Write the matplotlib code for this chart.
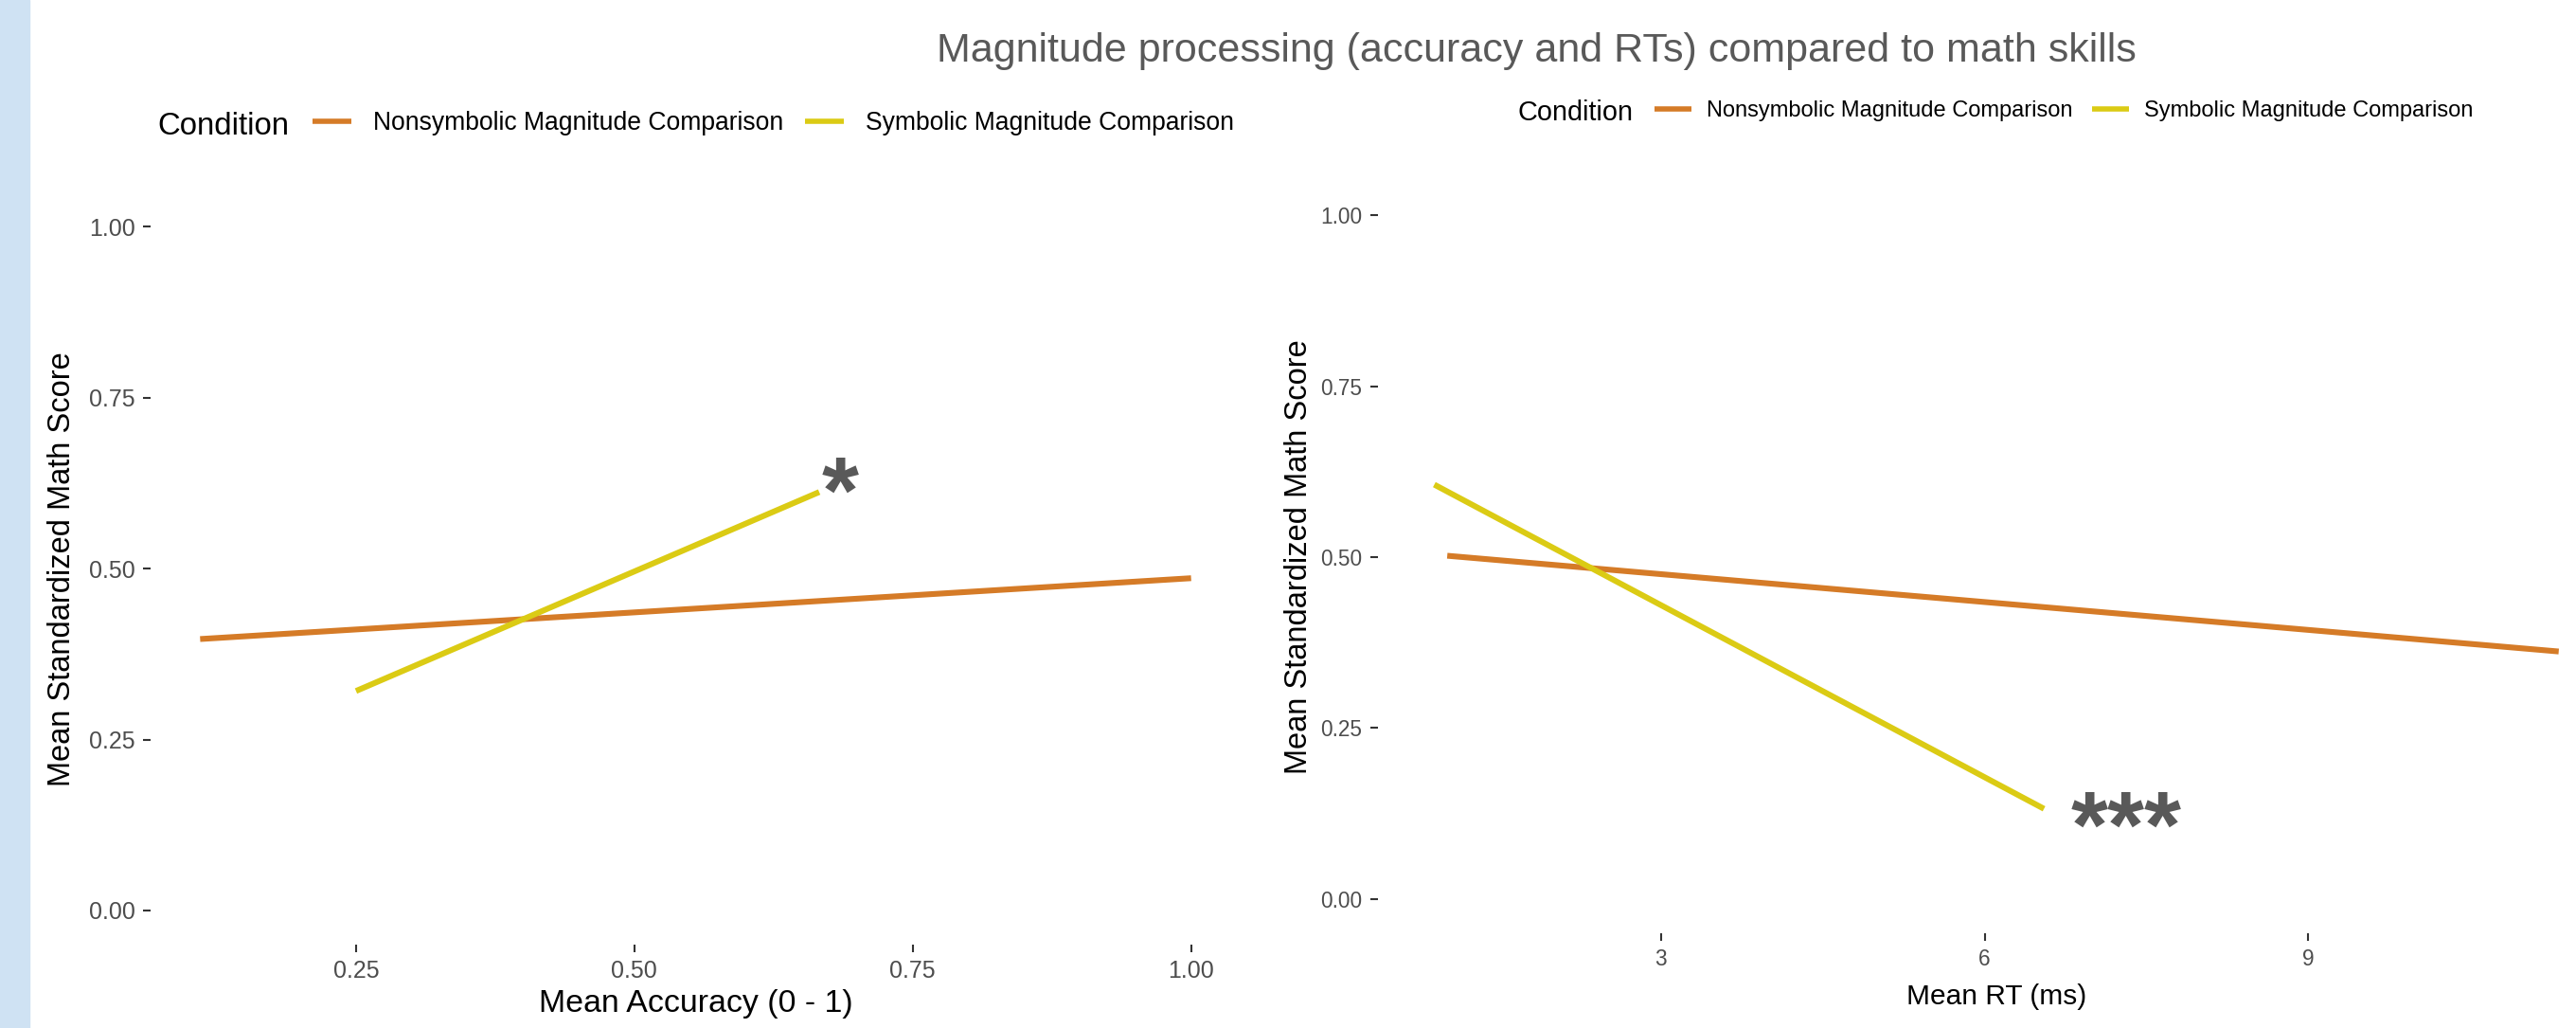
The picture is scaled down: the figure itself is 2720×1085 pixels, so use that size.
#!/usr/bin/env python3
# Magnitude processing vs math skills - two panel line chart
import matplotlib
matplotlib.use('Agg')
import matplotlib.pyplot as plt
from matplotlib.lines import Line2D
from matplotlib.patches import Rectangle

plt.rcParams['font.family'] = ['Liberation Sans', 'DejaVu Sans']

#%% data
conditions = ['Nonsymbolic Magnitude Comparison', 'Symbolic Magnitude Comparison']
colors = ['#D57B27', '#DBCB14']

acc_nonsym_x = [0.11, 1.00]
acc_nonsym_y = [0.397, 0.486]
acc_sym_x = [0.25, 0.666]
acc_sym_y = [0.321, 0.612]

rt_nonsym_x = [1.02, 11.32]
rt_nonsym_y = [0.502, 0.362]
rt_sym_x = [0.90, 6.55]
rt_sym_y = [0.606, 0.132]

y_ticks = [0.00, 0.25, 0.50, 0.75, 1.00]
acc_ticks = [0.25, 0.50, 0.75, 1.00]
rt_ticks = [3, 6, 9]

acc_signif = '*'
rt_signif = '***'

title = 'Magnitude processing (accuracy and RTs) compared to math skills'

#%% figure
W, H = 2720, 1085
fig = plt.figure(figsize=(W / 100, H / 100), dpi=100)
fig.patches.append(Rectangle((0, 0), 31 / W, 1, transform=fig.transFigure,
                             color='#cfe2f3', zorder=0))


def px_box(left, top, right, bottom):
    return [left / W, 1 - bottom / H, (right - left) / W, (bottom - top) / H]


def style_axis(ax, tick_fs, label_fs, xlabel, xlab_pos, ylab_pos, xpad):
    for s in ax.spines.values():
        s.set_visible(False)
    ax.set_ylim(-0.05, 1.05)
    ax.set_yticks(y_ticks)
    ax.set_yticklabels(['%.2f' % v for v in y_ticks])
    ax.tick_params(length=5.8, width=1.5, color='#333333', labelcolor='#4d4d4d',
                   labelsize=tick_fs, pad=6)
    ax.tick_params(axis='x', pad=xpad)
    ax.set_xlabel(xlabel, fontsize=label_fs, color='black', va='center')
    ax.xaxis.set_label_coords(*xlab_pos)
    ax.set_ylabel('Mean Standardized Math Score', fontsize=23.5, color='black',
                  va='center')
    ax.yaxis.set_label_coords(*ylab_pos)


lw = 4.4

# left panel: accuracy
ax1 = fig.add_axes(px_box(159, 203.3, 1310, 997))
ax1.plot(acc_nonsym_x, acc_nonsym_y, color=colors[0], lw=lw, solid_capstyle='butt')
ax1.plot(acc_sym_x, acc_sym_y, color=colors[1], lw=lw, solid_capstyle='butt')
ax1.set_xlim(0.0655, 1.0445)
ax1.set_xticks(acc_ticks)
ax1.set_xticklabels(['%.2f' % v for v in acc_ticks])
style_axis(ax1, 18, 24.4, 'Mean Accuracy (0 - 1)', (0.5, -0.079), (-0.0808, 0.5), 5.5)
ax1.text(0.685, 0.567, acc_signif, fontsize=72, fontweight='bold',
         color='#595959', ha='center', va='baseline')

# right panel: reaction time
ax2 = fig.add_axes(px_box(1455, 191, 2761, 985))
ax2.plot(rt_nonsym_x, rt_nonsym_y, color=colors[0], lw=lw, solid_capstyle='butt')
ax2.plot(rt_sym_x, rt_sym_y, color=colors[1], lw=lw, solid_capstyle='butt')
ax2.set_xlim(0.378, 11.84)
ax2.set_xticks(rt_ticks)
ax2.set_xticklabels([str(v) for v in rt_ticks])
style_axis(ax2, 16.3, 21.5, 'Mean RT (ms)', (0.5, -0.085), (-0.0636, 0.5), 5.5)
ax2.text(7.31, 0.061, rt_signif, fontsize=72, fontweight='bold',
         color='#595959', ha='center', va='baseline')

# title
fig.text(1622 / W, 1 - 65 / H, title, fontsize=31, color='#595959',
         ha='center', va='baseline')

# legends
handles = [Line2D([], [], color=c, lw=4, solid_capstyle='butt') for c in colors]

fig.text(166 / W, 1 - 142 / H, 'Condition', fontsize=23.7, va='baseline')
fig.legend(handles, conditions, ncol=2, frameon=False, fontsize=19.1,
           loc='center left', bbox_to_anchor=(330 / W, 1 - 130 / H),
           borderpad=0, borderaxespad=0, handlelength=1.56,
           handletextpad=0.84, columnspacing=0.87)

fig.text(1603 / W, 1 - 127 / H, 'Condition', fontsize=20.8, va='baseline')
fig.legend(handles, conditions, ncol=2, frameon=False, fontsize=17,
           loc='center left', bbox_to_anchor=(1747 / W, 1 - 117 / H),
           borderpad=0, borderaxespad=0, handlelength=1.65,
           handletextpad=0.66, columnspacing=0.89)

fig.savefig('out.png', dpi=100)
